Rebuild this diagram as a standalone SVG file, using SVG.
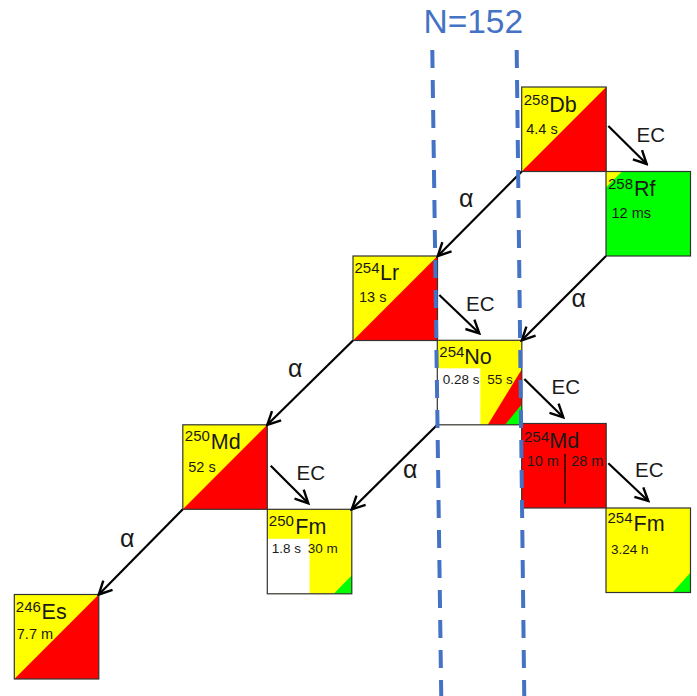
<svg xmlns="http://www.w3.org/2000/svg" width="697" height="696" viewBox="0 0 697 696">
<style>
.y{fill:#FFFF00}
.r{fill:#FF0000}
.g{fill:#00FF00}
.w{fill:#FFFFFF}
.b{fill:none;stroke:#333;stroke-width:1.2}
.m{font-family:"Liberation Sans",Arial,sans-serif;font-size:15px;fill:#1a1a1a}
.s{font-family:"Liberation Sans",Arial,sans-serif;font-size:21.5px;fill:#1a1a1a}
.h{font-family:"Liberation Sans",Arial,sans-serif;font-size:14.5px;fill:#1a1a1a}
.h2{font-family:"Liberation Sans",Arial,sans-serif;font-size:13.5px;fill:#1a1a1a}
.lbl{font-family:"Liberation Sans",Arial,sans-serif;font-size:20.5px;fill:#1a1a1a}
.al{font-family:"Liberation Sans",Arial,sans-serif;font-size:25px;fill:#1a1a1a}
.arr{stroke:#000;stroke-width:2.2;fill:none;marker-end:url(#ah)}
.dash{stroke:#4472C4;stroke-width:4;stroke-dasharray:18 12;fill:none}
</style>
<defs>
<marker id="ah" markerUnits="userSpaceOnUse" viewBox="-16 -9 18 18" refX="0" refY="0" markerWidth="18" markerHeight="18" orient="auto">
<path d="M-13,-6.5 L0,0 L-13,6.5" fill="none" stroke="#000" stroke-width="2.4"/>
</marker>
</defs>
<rect width="697" height="696" fill="#fff"/>

<g id="Db258" transform="translate(521.7,87)">
<rect class="y" width="84.5" height="84.5"/>
<polygon class="r" points="0,84.5 84.5,0 84.5,84.5"/>
<rect class="b" width="84.5" height="84.5"/>
<text class="m" x="2" y="18">258</text><text class="s" x="27.5" y="25">Db</text>
<text class="h" x="4.5" y="47">4.4 s</text>
</g>

<g id="Rf258" transform="translate(606,171.5)">
<rect class="g" width="84.5" height="84.5"/>
<polygon class="y" points="0,0 16,0 0,16"/>
<rect class="b" width="84.5" height="84.5"/>
<text class="m" x="2" y="17.5">258</text><text class="s" x="28" y="24.5">Rf</text>
<text class="h" x="5.5" y="46.5">12 ms</text>
</g>

<g id="Lr254" transform="translate(353,256)">
<rect class="y" width="84.5" height="84.5"/>
<polygon class="r" points="0,84.5 84.5,0 84.5,84.5"/>
<rect class="b" width="84.5" height="84.5"/>
<text class="m" x="1.5" y="16.5">254</text><text class="s" x="27" y="23.5">Lr</text>
<text class="h" x="6" y="46">13 s</text>
</g>

<g id="No254" transform="translate(437.3,340.3)">
<rect class="y" width="84.5" height="84.5"/>
<rect class="w" x="0" y="28" width="43" height="56.5"/>
<polygon class="r" points="50.5,84.5 84.5,29 84.5,84.5"/>
<polygon class="g" points="67.7,84.5 84.5,64 84.5,84.5"/>
<rect class="b" width="84.5" height="84.5"/>
<text class="m" x="2" y="17">254</text><text class="s" x="27" y="23.5">No</text>
<text class="h2" x="5.5" y="43.3">0.28 s</text>
<text class="h2" x="50" y="43.3">55 s</text>
</g>

<g id="Md254" transform="translate(521.7,423.5)">
<rect class="r" width="84.5" height="84.5"/>
<rect class="b" width="84.5" height="84.5"/>
<line x1="43.3" y1="30.5" x2="43.3" y2="80" stroke="#000" stroke-width="1.3"/>
<text class="m" x="2.3" y="18">254</text><text class="s" x="27.6" y="24">Md</text>
<text class="h" x="5" y="42">10 m</text>
<text class="h" x="49.5" y="42">28 m</text>
</g>

<g id="Md250" transform="translate(182.8,424.8)">
<rect class="y" width="84.5" height="84.5"/>
<polygon class="r" points="0,84.5 84.5,0 84.5,84.5"/>
<rect class="b" width="84.5" height="84.5"/>
<text class="m" x="2" y="16.5">250</text><text class="s" x="28" y="24">Md</text>
<text class="h" x="5.5" y="47">52 s</text>
</g>

<g id="Fm250" transform="translate(267.3,509.3)">
<rect class="y" width="84.5" height="84.5"/>
<rect class="w" x="0" y="29.5" width="42.3" height="55"/>
<polygon class="g" points="66.5,84.5 84.5,66 84.5,84.5"/>
<rect class="b" width="84.5" height="84.5"/>
<text class="m" x="1.5" y="17">250</text><text class="s" x="28" y="24.5">Fm</text>
<text class="h2" x="4.5" y="43.3">1.8 s</text>
<text class="h2" x="40.5" y="43.3">30 m</text>
</g>

<g id="Fm254" transform="translate(606,508)">
<rect class="y" width="84.5" height="84.5"/>
<polygon class="g" points="66.5,84.5 84.5,64.5 84.5,84.5"/>
<rect class="b" width="84.5" height="84.5"/>
<text class="m" x="1.5" y="15">254</text><text class="s" x="27.5" y="23">Fm</text>
<text class="h2" x="5" y="45.5">3.24 h</text>
</g>

<g id="Es246" transform="translate(14.3,594.5)">
<rect class="y" width="84.5" height="84.5"/>
<polygon class="r" points="0,84.5 84.5,0 84.5,84.5"/>
<rect class="b" width="84.5" height="84.5"/>
<text class="m" x="1.5" y="17">246</text><text class="s" x="27.3" y="24.5">Es</text>
<text class="h" x="2.5" y="44.5">7.7 m</text>
</g>

<g id="connectors">
<line class="arr" x1="521.7" y1="171.5" x2="437.8" y2="256"/>
<line class="arr" x1="606" y1="256" x2="521.8" y2="340.3"/>
<line class="arr" x1="353" y1="340.5" x2="267.3" y2="424.8"/>
<line class="arr" x1="437.3" y1="424.8" x2="351.8" y2="509.3"/>
<line class="arr" x1="182.8" y1="509.3" x2="98.8" y2="594.5"/>
<line class="arr" x1="608.3" y1="126" x2="646.7" y2="164"/>
<line class="arr" x1="439.3" y1="295" x2="479.3" y2="333.3"/>
<line class="arr" x1="524.3" y1="379" x2="563.3" y2="417.3"/>
<line class="arr" x1="270.7" y1="465.7" x2="308.3" y2="503.3"/>
<line class="arr" x1="608.3" y1="463.3" x2="648.3" y2="501"/>
</g>

<g id="labels">
<text class="lbl" x="636.5" y="141.7">EC</text>
<text class="lbl" x="466" y="311">EC</text>
<text class="lbl" x="551.5" y="394">EC</text>
<text class="lbl" x="296.5" y="480">EC</text>
<text class="lbl" x="635" y="476.7">EC</text>
<text class="al" x="459" y="206.7">α</text>
<text class="al" x="571.5" y="306.7">α</text>
<text class="al" x="288" y="376.7">α</text>
<text class="al" x="403" y="478">α</text>
<text class="al" x="120" y="546.7">α</text>
</g>

<g id="n152">
<line class="dash" x1="432.3" y1="50" x2="441.3" y2="700"/>
<line class="dash" x1="516.7" y1="50" x2="524.3" y2="700"/>
<text x="473.3" y="33.3" text-anchor="middle" font-family="'Liberation Sans',Arial,sans-serif" font-size="33.5" fill="#4472C4">N=152</text>
</g>
</svg>
